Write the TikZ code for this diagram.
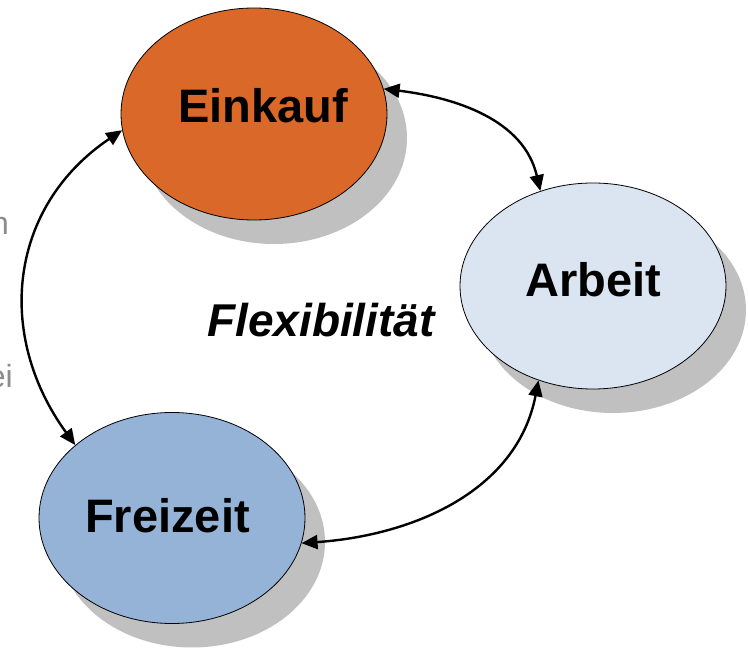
\documentclass[tikz,border=0pt]{standalone}
\usepackage{fontspec}
\setmainfont{Liberation Sans}
\usetikzlibrary{shapes.geometric,shadows,arrows.meta}
\definecolor{einc}{RGB}{217,104,41}
\definecolor{arbc}{RGB}{219,229,241}
\definecolor{frzc}{RGB}{149,179,215}
\definecolor{shadc}{RGB}{192,192,192}
\definecolor{slidegray}{RGB}{140,140,140}
\begin{document}
\begin{tikzpicture}[x=1pt,y=1pt,
  bubble/.style={ellipse, draw=black, line width=0.8pt, minimum width=266pt,
    minimum height=210pt, inner sep=0pt,
    drop shadow={shadow xshift=20pt, shadow yshift=-24pt, fill=shadc, opacity=1}},
  lbl/.style={font=\fontsize{47}{50}\selectfont\bfseries, inner sep=0pt, anchor=base},
  link/.style={line width=2.4pt,
    {Triangle[length=16pt,width=14pt]}-{Triangle[length=16pt,width=14pt]}},
  sidetext/.style={font=\fontsize{32}{34}\selectfont, text=slidegray,
    inner sep=0pt, anchor=base east}]
\useasboundingbox (0,0) rectangle (748,649);
% side text fragments (cut off at the left edge, as in the reference)
\node[sidetext] (s1) at (9,414) {n};
\node[sidetext] (s2) at (13,261) {ei};
% bubbles
\node[bubble, fill=einc, minimum height=212pt] (ein) at (254,535) {};
\node[bubble, fill=arbc, minimum height=206pt] (arb) at (593,363) {};
\node[bubble, fill=frzc, minimum height=211pt] (frz) at (172,131) {};
% labels
\node[lbl] (einT) at (263,526) {Einkauf};
\node[lbl] (arbT) at (593,352) {Arbeit};
\node[lbl] (frzT) at (167.5,117) {Freizeit};
\node[lbl, font=\fontsize{46}{50}\selectfont\bfseries\itshape] (flex) at (321,312) {Flexibilität};
% connectors
\draw[link] (ein.11) to[out=-7, in=103] (arb.119.5);
\draw[link] (ein.187) to[out=214, in=126, looseness=1.1] (frz.143.6);
\draw[link] (arb.240) to[out=259, in=4] (frz.-11);
\end{tikzpicture}
\end{document}
